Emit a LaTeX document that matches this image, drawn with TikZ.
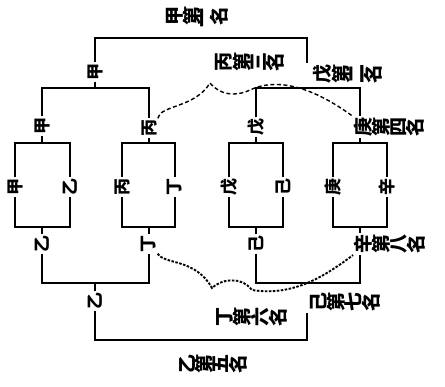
\documentclass[tikz,border=0pt]{standalone}
\usepackage{fontspec}
\usepackage{graphicx}
\newfontfamily\cjk{Noto Sans CJK SC}
\newcommand{\rc}[1]{\rotatebox[origin=c]{90}{#1}}
\begin{document}
\begin{tikzpicture}[x=1pt,y=-1pt,
  lab/.style={font=\cjk\bfseries\fontsize{17}{17}\selectfont, inner sep=1pt},
  place/.style={font=\cjk\bfseries\fontsize{19}{19}\selectfont, inner sep=1pt},
  ln/.style={line width=1.6pt},
  dashA/.style={line width=1.4pt, dash pattern=on 4pt off 2.5pt},
  dashB/.style={line width=1.9pt, dash pattern=on 2.5pt off 1.5pt}]
\useasboundingbox[fill=white] (0,0) rectangle (445,387);
% place labels
\node[place] (p1) at (197,17) {\rc{甲}\rc{第}\rc{一}\rc{名}};
\node[place] (p2) at (348,74) {\rc{戊}\rc{第}\rc{二}\rc{名}};
\node[place] (p3) at (250,62) {\rc{丙}\rc{第}\rc{三}\rc{名}};
\node[place] (p4) at (389,127) {\rc{庚}\rc{第}\rc{四}\rc{名}};
\node[place] (p5) at (213,364) {\rc{乙}\rc{第}\rc{五}\rc{名}};
\node[place] (p6) at (252,317) {\rc{丁}\rc{第}\rc{六}\rc{名}};
\node[place] (p7) at (345,302) {\rc{己}\rc{第}\rc{七}\rc{名}};
\node[place] (p8) at (390,244) {\rc{辛}\rc{第}\rc{八}\rc{名}};
% round labels
\node[lab] (wA) at (95,72) {\rc{甲}};
\node[lab] (w1) at (42,126) {\rc{甲}};
\node[lab] (w2) at (149,128) {\rc{丙}};
\node[lab] (w3) at (256,127) {\rc{戊}};
\node[lab] (l1) at (42,244) {\rc{乙}};
\node[lab] (l2) at (149,244) {\rc{丁}};
\node[lab] (l3) at (256,244) {\rc{己}};
\node[lab] (lA) at (95,301) {\rc{乙}};
% side labels
\node[lab] (s11) at (15,187) {\rc{甲}};
\node[lab] (s12) at (70,187) {\rc{乙}};
\node[lab] (s21) at (122,187) {\rc{丙}};
\node[lab] (s22) at (175,187) {\rc{丁}};
\node[lab] (s31) at (229,187) {\rc{戊}};
\node[lab] (s32) at (283,187) {\rc{己}};
\node[lab] (s41) at (333,187) {\rc{庚}};
\node[lab] (s42) at (387,187) {\rc{辛}};
% coordinates
\coordinate (tr) at (307,38);
\coordinate (ml) at (42,88);
\coordinate (mr1) at (149,88);
\coordinate (ml2) at (256,88);
\coordinate (mr2) at (360,88);
\coordinate (c4t) at (360,143);
\coordinate (c4b) at (360,227);
\coordinate (ll) at (42,283);
\coordinate (lr) at (149,283);
\coordinate (rl) at (256,283);
\coordinate (rr) at (360,283);
\coordinate (bl) at (95,340);
\coordinate (br) at (307,340);
% final bracket
\draw[ln] (wA.north) |- (tr) -- (tr |- p2.north);
\draw[ln] (wA.south) -- (wA.south |- ml);
% second round
\draw[ln] (w1.north) -- (ml) -- (mr1) -- (w2.north);
\draw[ln] (w3.north) -- (ml2) -- (mr2) -- (mr2 |- p4.north);
\draw[ln] (w1.south) -- (42,143);
\draw[ln] (w2.south) -- (149,143);
\draw[ln] (w3.south) -- (256,143);
\draw[ln] (mr2 |- p4.south) -- (c4t);
% first round boxes
\draw[ln] (s11.north) -- (15,143) -- (70,143) -- (s12.north);
\draw[ln] (s11.south) -- (15,227) -- (70,227) -- (s12.south);
\draw[ln] (s21.north) -- (122,143) -- (175,143) -- (s22.north);
\draw[ln] (s21.south) -- (122,227) -- (175,227) -- (s22.south);
\draw[ln] (s31.north) -- (229,143) -- (283,143) -- (s32.north);
\draw[ln] (s31.south) -- (229,227) -- (283,227) -- (s32.south);
\draw[ln] (s41.north) -- (333,143) -- (387,143) -- (s42.north);
\draw[ln] (s41.south) -- (333,227) -- (387,227) -- (s42.south);
% down to losers
\draw[ln] (42,227) -- (l1.north);
\draw[ln] (149,227) -- (l2.north);
\draw[ln] (256,227) -- (l3.north);
\draw[ln] (c4b) -- (c4b |- p8.north);
% losers brackets
\draw[ln] (l1.south) -- (ll) -- (lr) -- (l2.south);
\draw[ln] (l3.south) -- (rl) -- (rr) -- (rr |- p8.south);
\draw[ln] (lA.north) -- (lA.north |- ll);
\draw[ln] (lA.south) -- (bl) -- (br) -- (br |- p7.south);
% dashed play-offs
\draw[dashA] (w2.north east) .. controls (160,105) and (195,108) .. (210,83)
  .. controls (220,95) and (235,97) .. (250,90)
  .. controls (275,78) and (310,85) .. (p4.north west);
\draw[dashB] (l2.south east) .. controls (165,265) and (195,258) .. (212,288)
  .. controls (220,280) and (240,275) .. (252,290)
  .. controls (290,296) and (320,280) .. (p8.south west);
\end{tikzpicture}
\end{document}
